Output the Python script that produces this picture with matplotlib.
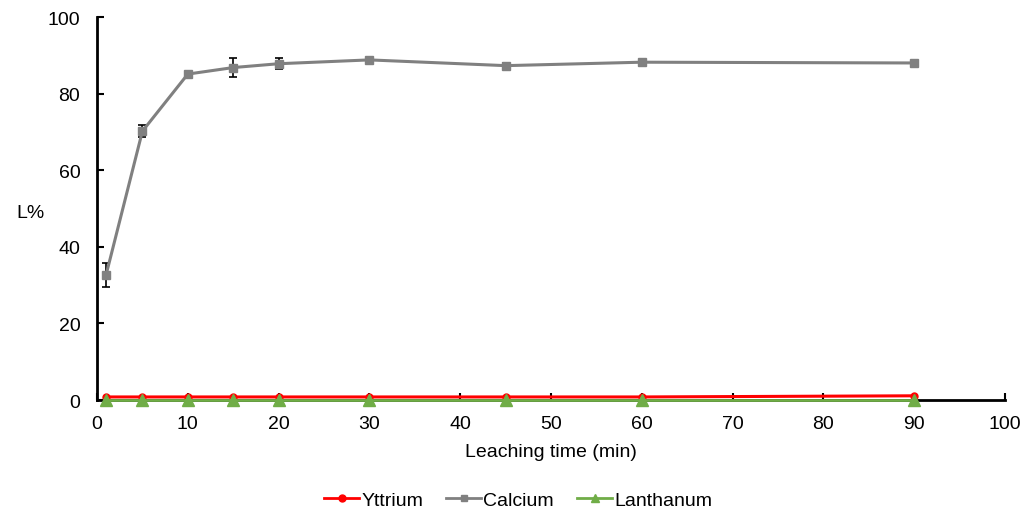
import matplotlib
matplotlib.use("Agg")
import matplotlib.pyplot as plt
from matplotlib.lines import Line2D

plt.rcParams['font.family'] = ['Liberation Sans', 'DejaVu Sans']

time = [1, 5, 10, 15, 20, 30, 45, 60, 90]
yttrium = [0.8, 0.8, 0.8, 0.8, 0.8, 0.8, 0.8, 0.8, 1.1]
calcium = [32.7, 70.2, 85.1, 86.8, 87.8, 88.8, 87.3, 88.2, 88.0]
calcium_err = [3.1, 1.6, 0.4, 2.4, 1.5, 0.4, 0.8, 0.4, 0.3]
lanthanum = [0.0, 0.0, 0.0, 0.0, 0.0, 0.0, 0.0, 0.0, 0.0]
xticks = [0, 10, 20, 30, 40, 50, 60, 70, 80, 90, 100]
yticks = [0, 20, 40, 60, 80, 100]

fig = plt.figure(figsize=(10.3, 5.1), dpi=100)
ax = fig.add_axes([0.0942, 0.2137, 0.8815, 0.751])

ax.plot(time, yttrium, color='#ff0000', marker='o', markersize=5, linewidth=2.2,
        label='Yttrium', zorder=3, clip_on=False)
ax.errorbar(time, calcium, yerr=calcium_err, color='#808080', marker='s', markersize=6,
            linewidth=2.2, ecolor='black', elinewidth=1.2, capsize=3, capthick=1.2,
            label='Calcium', zorder=2)
ax.plot(time, lanthanum, color='#70ad47', marker='^', markersize=8, linewidth=2,
        label='Lanthanum', zorder=4, clip_on=False)

ax.set_xlim(0, 100)
ax.set_ylim(0, 100)
ax.set_xticks(xticks)
ax.set_yticks(yticks)
ax.tick_params(direction='in', length=5, width=1.5, labelsize=14)
ax.tick_params(axis='y', pad=12)
ax.tick_params(axis='x', pad=11)
for s in ['top', 'right']:
    ax.spines[s].set_visible(False)
for s in ['left', 'bottom']:
    ax.spines[s].set_linewidth(2)
    ax.spines[s].set_zorder(1)

ax.set_xlabel('Leaching time (min)', fontsize=14, labelpad=8)
ax.set_ylabel('L%', fontsize=14, rotation=0, va='center', ha='center')
ax.yaxis.set_label_coords(-0.073, 0.49)

hs = [Line2D([], [], color='#ff0000', marker='o', markersize=5, linewidth=2),
      Line2D([], [], color='#808080', marker='s', markersize=5, linewidth=2),
      Line2D([], [], color='#70ad47', marker='^', markersize=6, linewidth=2)]
fig.legend(hs, ['Yttrium', 'Calcium', 'Lanthanum'], loc='center', bbox_to_anchor=(0.503, 0.018),
           ncol=3, frameon=False, fontsize=14, handlelength=1.8, columnspacing=1.2,
           handletextpad=0.1)

fig.savefig('out.png', dpi=100)
